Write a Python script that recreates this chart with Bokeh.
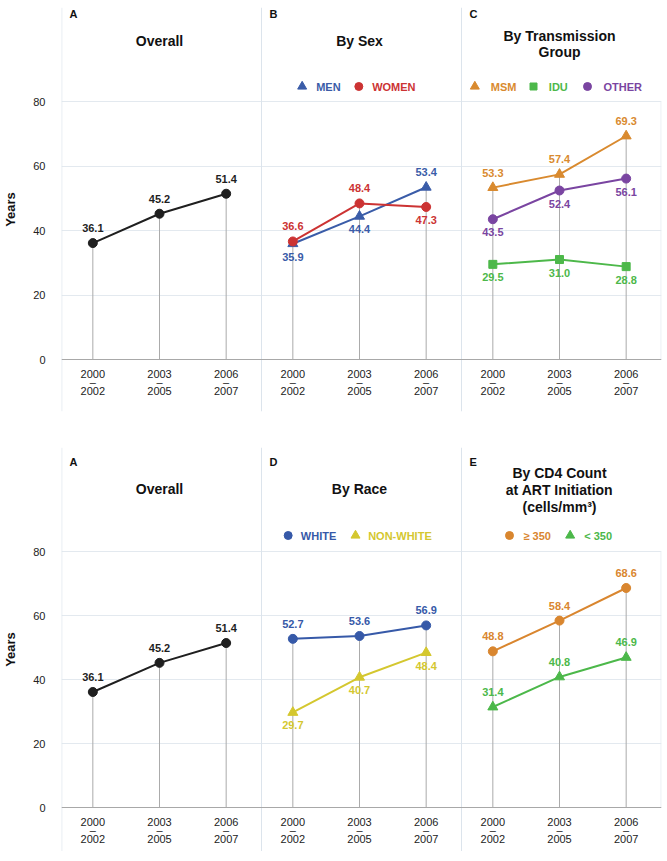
from bokeh.plotting import figure
from bokeh.models import ColumnDataSource
from bokeh.layouts import column
from bokeh.embed import file_html
from bokeh.resources import INLINE
from bokeh.core.properties import value

FONT = "Liberation Sans"

# ---------------- data ----------------
period_start = ["2000", "2003", "2006"]
period_end = ["2002", "2005", "2007"]
y_ticks = [0, 20, 40, 60, 80]

overall = [36.1, 45.2, 51.4]
men = [35.9, 44.4, 53.4]
women = [36.6, 48.4, 47.3]
msm = [53.3, 57.4, 69.3]
idu = [29.5, 31.0, 28.8]
other = [43.5, 52.4, 56.1]
white = [52.7, 53.6, 56.9]
nonwhite = [29.7, 40.7, 48.4]
cd4_high = [48.8, 58.4, 68.6]
cd4_low = [31.4, 40.8, 46.9]

# ---------------- styling ----------------
BLACK = "#1f1f1f"
C_MEN = "#3a5ca8"
C_WOMEN = "#cc3333"
C_MSM = "#d98a2f"
C_IDU = "#4db84a"
C_OTHER = "#7a45a1"
C_WHITE = "#3659a8"
C_NONWHITE = "#d4c72f"
C_HIGH = "#d9862f"
C_LOW = "#4cb84a"

GRID = "#e3e9ef"
SEP = "#dce4ec"
AXIS = "#a8a8a8"
DROP = "#ababab"

X0, X1 = -0.47, 8.53


def series(vals, color, marker, pos, name=None, lm=None, lt=None):
    return dict(vals=vals, color=color, marker=marker, pos=pos, name=name, lm=lm, lt=lt)


top_panels = [
    dict(letter="A", title=[("Overall", 41)], series=[
        series(overall, BLACK, "circle", ["a", "a", "a"])]),
    dict(letter="B", title=[("By Sex", 41)], series=[
        series(men, C_MEN, "triangle", ["b", "b", "a"], "MEN", -0.86, -0.65),
        series(women, C_WOMEN, "circle", ["a", "a", "b"], "WOMEN", -0.01, 0.19)]),
    dict(letter="C", title=[("By Transmission", 36), ("Group", 52)], series=[
        series(msm, C_MSM, "triangle", ["a", "a", "a"], "MSM", -1.27, -1.03),
        series(idu, C_IDU, "square", ["b", "b", "b"], "IDU", -0.39, -0.16),
        series(other, C_OTHER, "circle", ["b", "b", "b"], "OTHER", 0.42, 0.66)]),
]

bottom_panels = [
    dict(letter="A", title=[("Overall", 489)], series=[
        series(overall, BLACK, "circle", ["a", "a", "a"])]),
    dict(letter="D", title=[("By Race", 489)], series=[
        series(white, C_WHITE, "circle", ["a", "a", "a"], "WHITE", -1.07, -0.88),
        series(nonwhite, C_NONWHITE, "triangle", ["b", "b", "b"], "NON-WHITE", -0.06, 0.13)]),
    dict(letter="E", title=[("By CD4 Count", 473), ("at ART Initiation", 490), ("(cells/mm\u00b3)", 507)], series=[
        series(cd4_high, C_HIGH, "circle", ["a", "a", "a"], "\u2265 350", -0.75, -0.54),
        series(cd4_low, C_LOW, "triangle", ["a", "a", "a"], "< 350", 0.16, 0.37)]),
]

MSIZE = {"circle": 9, "triangle": 10, "square": 8}


def build(panels, height, border_top, border_bottom, y_start, y_end, upp, y80_page,
          letter_page, legend_page):
    p = figure(width=663, height=height, x_range=(X0, X1), y_range=(y_start, y_end),
               output_backend="svg", toolbar_location=None, title=None,
               x_axis_location=None, y_axis_location="left",
               min_border_left=51, min_border_right=2,
               min_border_top=border_top, min_border_bottom=border_bottom)
    p.outline_line_color = None
    p.background_fill_color = "white"
    p.border_fill_color = "white"
    p.xgrid.visible = False
    p.ygrid.ticker = [20, 40, 60, 80]
    p.ygrid.grid_line_color = GRID
    p.yaxis.ticker = y_ticks
    p.yaxis.axis_line_color = None
    p.yaxis.major_tick_line_color = None
    p.yaxis.minor_tick_line_color = None
    p.yaxis.major_label_text_font = FONT
    p.yaxis.major_label_text_font_size = "11px"
    p.yaxis.major_label_text_color = "#222222"
    p.yaxis.major_label_standoff = 10
    p.yaxis.axis_label = "Years"
    p.yaxis.axis_label_text_font = FONT
    p.yaxis.axis_label_text_font_size = "13px"
    p.yaxis.axis_label_text_font_style = "bold"
    p.yaxis.axis_label_text_color = "#111111"
    p.yaxis.axis_label_standoff = 12

    def ypg(page_y):
        return 80 + (y80_page - page_y) * upp

    # panel separators and frame lines
    seps = [X0 + 0.004] + [X0 + 3 * k for k in (1, 2)]
    p.segment(x0=seps, y0=[y_start] * 3, x1=seps, y1=[y_end] * 3, line_color=SEP, line_width=1)
    p.segment(x0=[X1 - 0.006], y0=[0], x1=[X1 - 0.006], y1=[80], line_color=GRID, line_width=1)
    p.segment(x0=[X0], y0=[0], x1=[X1], y1=[0], line_color=AXIS, line_width=1)

    for k, pan in enumerate(panels):
        xs = [3 * k + i for i in range(3)]
        xc = 3 * k + 1
        # drop lines to the highest value
        tops = [max(s["vals"][i] for s in pan["series"]) for i in range(3)]
        p.segment(x0=xs, y0=[0] * 3, x1=xs, y1=tops, line_color=DROP, line_width=1)

        # x tick labels
        p.text(x=xs, y=[-14 * upp] * 3, text=period_start, text_font=value(FONT),
               text_font_size="11px", text_color="#222222", text_align="center", text_baseline="middle")
        p.text(x=xs, y=[-22 * upp] * 3, text=["\u2013"] * 3, text_font=value(FONT),
               text_font_size="11px", text_color="#222222", text_align="center", text_baseline="middle")
        p.text(x=xs, y=[-31 * upp] * 3, text=period_end, text_font=value(FONT),
               text_font_size="11px", text_color="#222222", text_align="center", text_baseline="middle")

        # headers
        p.text(x=[X0 + 3 * k + 0.12], y=[ypg(letter_page)], text=[pan["letter"]], text_font=value(FONT),
               text_font_size="11px", text_font_style="bold", text_color="#111111",
               text_align="left", text_baseline="middle")
        for line, py in pan["title"]:
            p.text(x=[xc], y=[ypg(py)], text=[line], text_font=value(FONT),
                   text_font_size="14px", text_font_style="bold", text_color="#111111",
                   text_align="center", text_baseline="middle")

        for s in pan["series"]:
            offs = [15 * upp if q == "a" else -13 * upp for q in s["pos"]]
            src = ColumnDataSource(dict(
                x=xs, y=s["vals"],
                ly=[v + o for v, o in zip(s["vals"], offs)],
                lab=["%.1f" % v for v in s["vals"]]))
            p.line("x", "y", source=src, line_color=s["color"], line_width=2)
            p.scatter("x", "y", source=src, marker=s["marker"], size=MSIZE[s["marker"]],
                      fill_color=s["color"], line_color=s["color"])
            p.text("x", "ly", text="lab", source=src, text_font=value(FONT), text_font_size="11px",
                   text_font_style="bold", text_color=s["color"], text_align="center",
                   text_baseline="middle")
            if s["name"]:
                ly = ypg(legend_page)
                p.scatter(x=[xc + s["lm"]], y=[ly], marker=s["marker"], size=MSIZE[s["marker"]] - 1,
                          fill_color=s["color"], line_color=s["color"])
                p.text(x=[xc + s["lt"]], y=[ly], text=[s["name"]], text_font=value(FONT),
                       text_font_size="11px", text_font_style="bold", text_color=s["color"],
                       text_align="left", text_baseline="middle")
    return p


upp_t = 80 / 258
top = build(top_panels, 427, 7, 16,
            -(412 - 360) * upp_t, 80 + (102 - 8) * upp_t, upp_t, 102, 14, 87)
upp_b = 80 / 256
bottom = build(bottom_panels, 424, 20, 0,
               -(852 - 808) * upp_b, 80 + (552 - 448) * upp_b, upp_b, 552, 462, 536)

layout = column(top, bottom, spacing=0)
open("out.html", "w").write(file_html(layout, INLINE))
